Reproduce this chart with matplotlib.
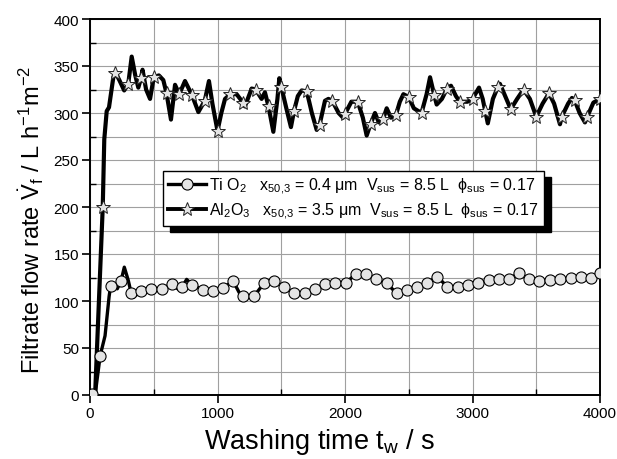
"""
Filtrate flow rate vs. washing time for TiO2 and Al2O3 suspensions.
Values read off the reference figure by eye.
"""
import numpy as np
import matplotlib
matplotlib.use("Agg")
import matplotlib.pyplot as plt
from matplotlib.ticker import MultipleLocator

plt.rcParams["font.family"] = ["Liberation Sans", "DejaVu Sans"]
plt.rcParams["mathtext.fontset"] = "custom"
plt.rcParams["mathtext.rm"] = "Liberation Sans"
plt.rcParams["mathtext.it"] = "Liberation Sans"
plt.rcParams["mathtext.bf"] = "Liberation Sans:bold"

# --- TiO2: circle markers every ~80 s ------------------------------------
ti_mark_t = [13, 80, 162, 243, 322, 402, 482, 562, 643, 724, 803, 883, 962,
             1040, 1124, 1203, 1286, 1365, 1446, 1524, 1602, 1684, 1765, 1845,
             1924, 2005, 2086, 2165, 2243, 2327, 2405, 2484, 2562, 2645, 2724,
             2803, 2884, 2967, 3045, 3129, 3207, 3286, 3365, 3446, 3524, 3608,
             3686, 3770, 3849, 3927, 4000]
ti_mark_v = [1, 42, 116, 121, 109, 111, 113, 113, 118, 115, 117, 112, 111,
             114, 121, 105, 105, 119, 121, 115, 108, 109, 113, 118,
             119, 119, 129, 129, 123, 119, 108, 112, 115, 119, 126,
             115, 115, 117, 119, 122, 123, 123, 130, 123, 121, 122,
             123, 124, 126, 124, 130]
# extra points of the TiO2 curve between the markers (bumps and dips)
ti_extra_t = [40, 118, 150, 214, 269, 300, 342, 706, 758, 1170, 1240]
ti_extra_v = [0, 63, 105, 113, 136, 122, 104, 111, 123, 109, 104]

# --- Al2O3: star markers every 100 s -------------------------------------
al_mark_t = [100, 200, 300, 400, 500, 600, 700, 800, 900, 1000,
             1100, 1200, 1300, 1400, 1500, 1600, 1700, 1800, 1900, 2000,
             2100, 2200, 2300, 2400, 2500, 2600, 2700, 2800, 2900, 3000,
             3100, 3200, 3300, 3400, 3500, 3600, 3700, 3800, 3900, 4000]
al_mark_v = [200, 343, 331, 337, 338, 321, 320, 319, 313, 281,
             320, 311, 325, 307, 328, 302, 323, 287, 313, 299,
             312, 288, 294, 298, 317, 300, 319, 326, 312, 315,
             302, 328, 304, 325, 296, 321, 296, 314, 296, 315]
# extra points of the Al2O3 curve (the oscillations between the stars)
al_extra_t = [40, 112, 131, 149, 183, 230, 268, 327, 355, 379, 412, 440, 471,
              540, 575, 635, 667, 745, 850, 933, 960, 1030, 1059, 1150, 1215,
              1268, 1346, 1372, 1438, 1470, 1485, 1540, 1576, 1630, 1660, 1740,
              1778, 1843, 1870, 1950, 1985, 2050, 2140, 2170, 2235, 2265, 2327,
              2360, 2430, 2458, 2540, 2640, 2667, 2719, 2760, 2831, 2870, 2960,
              3051, 3080, 3120, 3160, 3215, 3250, 3350, 3450, 3550, 3640, 3686,
              3750, 3780, 3840, 3882, 3948]
al_extra_v = [0, 272, 302, 306, 338, 335, 324, 360, 340, 327, 346, 325, 315,
              340, 335, 293, 330, 334, 301, 334, 310, 300, 315, 320, 307,
              326, 315, 322, 280, 315, 337, 305, 285, 318, 324, 300,
              282, 313, 315, 300, 295, 312, 295, 276, 300, 290, 305,
              295, 312, 320, 305, 320, 338, 309, 315, 329, 318, 312,
              327, 315, 289, 315, 331, 320, 315, 315, 310, 310, 288,
              310, 316, 300, 290, 311]

ti_label = ("Ti O$_2$   x$_{50{,}3}$ = 0.4 \u03bcm  V$_{sus}$ = 8.5 L"
            "  \u03d5$_{sus}$ = 0.17")
al_label = ("Al$_2$O$_3$   x$_{50{,}3}$ = 3.5 \u03bcm  V$_{sus}$ = 8.5 L"
            "  \u03d5$_{sus}$ = 0.17")


def merged(t1, v1, t2, v2):
    """Combine marker and extra points into one time-sorted curve."""
    t = np.array(t1 + t2, dtype=float)
    v = np.array(v1 + v2, dtype=float)
    order = np.argsort(t)
    return t[order], v[order]


ti_t, ti_v = merged(ti_mark_t, ti_mark_v, ti_extra_t, ti_extra_v)
al_t, al_v = merged(al_mark_t, al_mark_v, al_extra_t, al_extra_v)

fig = plt.figure(figsize=(6.17, 4.6), dpi=100)
ax = fig.add_axes([90 / 617, 1 - 396 / 460, 510 / 617, 376 / 460])

# curves
ax.plot(ti_t, ti_v, color="black", lw=2.4, zorder=3, solid_joinstyle="round")
ax.plot(al_t, al_v, color="black", lw=3.0, zorder=3, solid_joinstyle="round")
# markers
ax.plot(ti_mark_t, ti_mark_v, "o", ms=8, mfc="#e4e4e4", mec="black",
        mew=0.8, zorder=4)
ax.plot(al_mark_t, al_mark_v, "*", ms=10, mfc="#e4e4e4", mec="#222222",
        mew=0.7, zorder=4)

# legend proxies (line + marker)
h_ti, = ax.plot([], [], "-o", color="black", lw=2.4, ms=8, mfc="#e4e4e4",
                mec="black", mew=0.8)
h_al, = ax.plot([], [], "-*", color="black", lw=2.8, ms=10, mfc="#e4e4e4",
                mec="#222222", mew=0.7)
leg = ax.legend([h_ti, h_al], [ti_label, al_label], loc="upper left",
                bbox_to_anchor=((163 - 90) / 510, (396 - 172) / 376),
                fontsize=11.5, frameon=True, fancybox=False, framealpha=1,
                edgecolor="black", handlelength=2.4, handletextpad=0.2,
                borderpad=0.3, labelspacing=0.3, borderaxespad=0,
                shadow={"ox": 5, "oy": -4.5, "color": "black", "alpha": 1})
leg.get_frame().set_linewidth(1.0)
leg.set_zorder(5)

ax.set_xlim(0, 4000)
ax.set_ylim(0, 400)
ax.xaxis.set_major_locator(MultipleLocator(1000))
ax.xaxis.set_minor_locator(MultipleLocator(500))
ax.yaxis.set_major_locator(MultipleLocator(50))
ax.yaxis.set_minor_locator(MultipleLocator(25))
ax.grid(True, which="both", color="#a0a0a0", lw=0.8)
ax.set_axisbelow(True)
ax.tick_params(which="major", direction="out", length=6, width=1.2,
               labelsize=11, pad=2)
ax.tick_params(which="minor", direction="in", length=4, width=1.0)
for s in ax.spines.values():
    s.set_linewidth(1.4)

fig.text(320 / 617, 1 - 449 / 460, "Washing time t$_\\mathrm{w}$ / s",
         ha="center", va="baseline", fontsize=19.5)
fig.text(31 / 617, 1 - 220 / 460,
         "Filtrate flow rate $\\dot{\\mathrm{V}}_\\mathrm{f}$ / L h$^{-1}$m$^{-2}$",
         ha="center", va="center", rotation=90, fontsize=17)

fig.savefig("out.png", dpi=100)
plt.close(fig)
